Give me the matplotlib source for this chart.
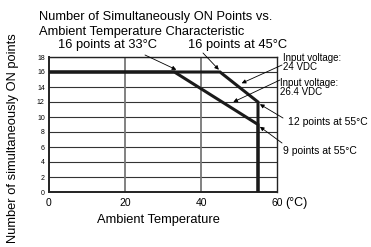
import matplotlib
matplotlib.use("Agg")
import matplotlib.pyplot as plt

plt.rcParams["font.family"] = ["Liberation Sans", "DejaVu Sans"]

# derating curves: temperature (deg C) vs. simultaneously ON points
temp_24 = [0, 45, 55, 55]
points_24 = [16, 16, 12, 0]
temp_264 = [0, 33, 55, 55]
points_264 = [16, 16, 9, 0]

xticks = [0, 20, 40, 60]
yticks = [0, 2, 4, 6, 8, 10, 12, 14, 16, 18]

W, H = 371, 247
fig = plt.figure(figsize=(W / 100, H / 100), dpi=100)
ax = fig.add_axes([49 / W, 1 - 192 / H, 228 / W, 135 / H])

def px(x, y):
    # top-left pixel coords -> figure pixels
    return (x, H - y)

ax.set_xlim(0, 60)
ax.set_ylim(0, 18)
ax.set_xticks(xticks)
ax.set_yticks(yticks)
ax.set_xticklabels(["0", "20", "40", "60"], fontsize=7.5)
ax.set_yticklabels([str(v) for v in yticks], fontsize=5)
ax.tick_params(length=0, pad=3)
ax.tick_params(axis="x", pad=4)

for v in yticks[1:]:
    ax.axhline(v, color="#333333", lw=0.8, zorder=1)
for v in [20, 40]:
    ax.axvline(v, color="#777777", lw=1.3, zorder=1)
for s in ax.spines.values():
    s.set_linewidth(1.0)
    s.set_color("#222222")
ax.spines["left"].set_linewidth(1.4)
ax.spines["bottom"].set_linewidth(1.4)

ax.plot(temp_24, points_24, color="#1a1a1a", lw=2.2, zorder=3, solid_joinstyle="miter")
ax.plot(temp_264, points_264, color="#1a1a1a", lw=2.2, zorder=3, solid_joinstyle="miter")

arrow = dict(arrowstyle="-|>", lw=0.6, color="black", mutation_scale=6,
             shrinkA=0, shrinkB=0)
arrows = [
    ((33.5, 16.3), (145, 55)),
    ((44.7, 16.3), (203, 53)),
    ((50.7, 14.5), (282, 65)),
    ((48.5, 12.0), (280, 80)),
    ((55.5, 11.7), (283, 118)),
    ((55.5, 8.7), (282, 143)),
]
for tip, start in arrows:
    ax.annotate("", xy=tip, xycoords="data", xytext=px(*start),
                textcoords="figure pixels", arrowprops=arrow, annotation_clip=False)

def label(x, y, s, size, va="center", ha="left", **kw):
    fig.text(x / W, 1 - y / H, s, fontsize=size, va=va, ha=ha, **kw)

label(39, 17, "Number of Simultaneously ON Points vs.", 9.3)
label(39, 32, "Ambient Temperature Characteristic", 9.3)
label(58, 45, "16 points at 33°C", 9.3)
label(188, 45, "16 points at 45°C", 9.3)
label(283, 53, "Input voltage:\n24 VDC", 7, va="top", linespacing=0.85)
label(280, 78, "Input voltage:\n26.4 VDC", 7, va="top", linespacing=0.85)
label(288, 122, "12 points at 55°C", 7.5)
label(283, 151, "9 points at 55°C", 7.5)
label(285, 203, "(°C)", 9)
label(158, 220, "Ambient Temperature", 9.3, ha="center")
label(13, 138, "Number of simultaneously ON points", 9.3, ha="center", rotation=90)

fig.savefig("out.png", dpi=100)
